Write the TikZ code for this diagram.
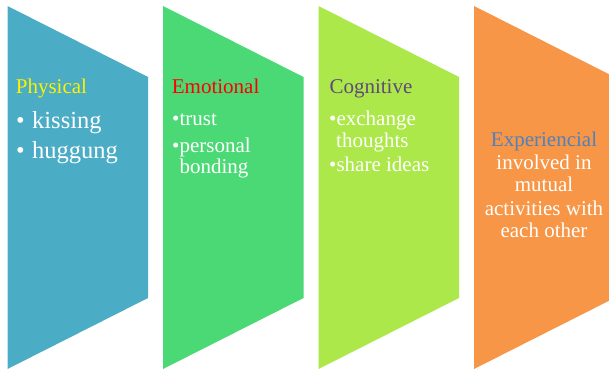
\documentclass[tikz,border=0pt]{standalone}
\usepackage{fontspec}
\setmainfont{Liberation Serif}
\usepackage{xcolor}
\definecolor{panelblue}{HTML}{4BACC6}
\definecolor{panelgreen}{HTML}{4AD975}
\definecolor{panellime}{HTML}{ACE84A}
\definecolor{panelorange}{HTML}{F79646}
\definecolor{headpurple}{HTML}{5F497A}
\definecolor{headblue}{HTML}{4F81BD}

\begin{document}
\begin{tikzpicture}[x=1pt, y=-1pt,
  head/.style={anchor=base west, inner sep=0pt, font=\fontsize{21}{21}\selectfont},
  item/.style={anchor=base west, inner sep=0pt, text=white, font=\fontsize{21}{21}\selectfont},
  bigitem/.style={item, font=\fontsize{24.5}{24.5}\selectfont},
  midline/.style={anchor=base, inner sep=0pt, text=white, font=\fontsize{21}{21}\selectfont}]

\useasboundingbox (0,0) rectangle (609,369);
\clip (0,0) rectangle (609,369);

% Draw the four arrow panels
\fill [panelblue]   (  7.5,6) -- (148.0,77) -- (148.0,298) -- (  7.5,369) -- cycle ;
\fill [panelgreen]  (163.0,6) -- (303.5,77) -- (303.5,298) -- (163.0,369) -- cycle ;
\fill [panellime]   (318.5,6) -- (459.0,77) -- (459.0,298) -- (318.5,369) -- cycle ;
\fill [panelorange] (474.0,6) -- (614.5,77) -- (614.5,298) -- (474.0,369) -- cycle ;

% Physical
\node [head, text=yellow] (phys) at ( 15.7, 93.3) {Physical} ;
\node [bigitem] (kiss) at ( 16.0,128.3) {\makebox[16pt][l]{•}kissing} ;
\node [bigitem] (hug)  at ( 16.0,158.3) {\makebox[16pt][l]{•}huggung} ;

% Emotional
\node [head, text=red] (emo) at (171.7, 93.3) {Emotional} ;
\node [item] (trust) at (172.0,125.5) {•trust} ;
\node [item] (pers)  at (172.0,152.3) {•personal} ;
\node [item] (bond)  at (179.3,173.0) {bonding} ;

% Cognitive
\node [head, text=headpurple] (cog) at (329.3, 93.3) {Cognitive} ;
\node [item] (exch)  at (329.0,125.0) {•exchange} ;
\node [item] (thou)  at (336.0,147.7) {thoughts} ;
\node [item] (share) at (329.0,171.7) {•share ideas} ;

% Experiencial
\node [midline, text=headblue] (exp) at (544.0,146.7) {Experiencial} ;
\node [midline] (inv)  at (544.0,169.3) {involved in} ;
\node [midline] (mut)  at (544.0,191.7) {mutual} ;
\node [midline] (act)  at (544.0,215.0) {activities with} ;
\node [midline] (each) at (544.0,237.7) {each other} ;

\end{tikzpicture}
\end{document}
